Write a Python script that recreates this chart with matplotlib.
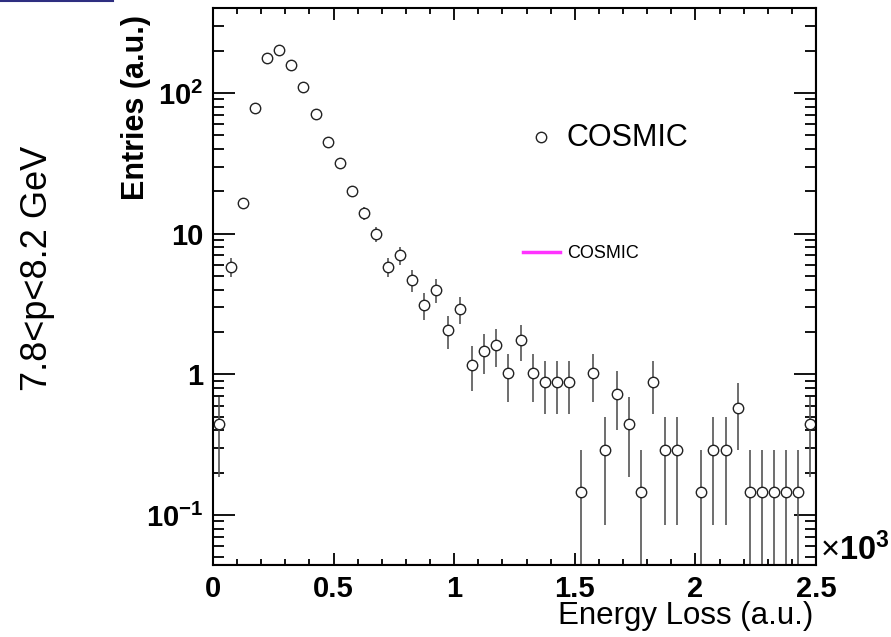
import numpy as np
import matplotlib.pyplot as plt
import matplotlib.transforms as mtransforms
from matplotlib.lines import Line2D
from matplotlib.ticker import MultipleLocator, LogLocator, NullFormatter

plt.rcParams['font.family'] = ['Liberation Sans', 'DejaVu Sans']
plt.rcParams['mathtext.fontset'] = 'custom'
plt.rcParams['mathtext.rm'] = 'Liberation Sans'
plt.rcParams['mathtext.bf'] = 'Liberation Sans:bold'

# energy loss histogram, 50 bins of 0.05 (x10^3) between 0 and 2.5
bin_lo = 0.0
bin_width = 0.05
entries = [0.44, 5.8, 16.4, 78, 178, 203, 158, 110, 71, 45,
           32, 20, 14, 10, 5.8, 7.0, 4.7, 3.1, 4.0, 2.05,
           2.92, 1.17, 1.46, 1.61, 1.02, 1.75, 1.02, 0.88, 0.88, 0.88,
           0.146, 1.02, 0.29, 0.73, 0.44, 0.146, 0.88, 0.29, 0.29, 0.0,
           0.146, 0.29, 0.29, 0.58, 0.146, 0.146, 0.146, 0.146, 0.146, 0.44]
weight = 0.146  # a.u. per raw count

x_ticks = [0, 0.5, 1, 1.5, 2, 2.5]
x_ticklabels = ['0', '0.5', '1', '1.5', '2', '2.5']
y_ticks = [0.1, 1, 10, 100]
y_ticklabels = [r'$\mathbf{10^{-1}}$', '1', '10', r'$\mathbf{10^{2}}$']

y = np.array(entries)
x = bin_lo + bin_width * (np.arange(len(y)) + 0.5)
keep = y > 0
x, y = x[keep], y[keep]
err = np.sqrt(y * weight)          # poisson error on weighted counts
err_lo = np.minimum(err, y - 1e-3)

fig = plt.figure(figsize=(8.91, 6.37), dpi=100)
ax = fig.add_axes([213 / 891, 1 - 565 / 637, 603 / 891, 557 / 637])

ax.errorbar(x, y, yerr=[err_lo, err], fmt='o', mfc='white', mec='#222222',
            ms=7.5, mew=1.0, ecolor='#555555', elinewidth=1.2, capsize=0)

ax.set_yscale('log')
ax.set_xlim(0, 2.5)
ax.set_ylim(0.0441, 402)

ax.xaxis.set_major_locator(MultipleLocator(0.5))
ax.xaxis.set_minor_locator(MultipleLocator(0.1))
ax.set_xticks(x_ticks)
ax.set_xticklabels(x_ticklabels, fontweight='bold')
ax.set_yticks(y_ticks)
ax.set_yticklabels(y_ticklabels, fontweight='bold')
ax.yaxis.set_minor_locator(LogLocator(base=10, subs=np.arange(2, 10), numticks=20))
ax.yaxis.set_minor_formatter(NullFormatter())

ax.tick_params(axis='x', which='major', direction='in', top=True, length=8.5,
               width=1.3, pad=7, labelsize=21)
ax.tick_params(axis='x', which='minor', direction='in', top=True, length=4.3, width=1.3)
ax.tick_params(axis='y', which='major', direction='in', right=True, length=16,
               width=1.3, pad=7, labelsize=21)
ax.tick_params(axis='y', which='minor', direction='in', right=True, length=8, width=1.3)
for sp in ax.spines.values():
    sp.set_linewidth(1.5)

# thin red frame lines just inside the right and bottom edges
shift = mtransforms.ScaledTranslation(-1.5 / 100, 1.5 / 100, fig.dpi_scale_trans)
ax.plot([0, 1], [0, 0], color='#cc4444', lw=0.8, clip_on=False,
        transform=ax.transAxes + shift)
ax.plot([1, 1], [0, 1], color='#cc4444', lw=0.8, clip_on=False,
        transform=ax.transAxes + shift)

fig.text(136 / 891, 1 - 107 / 637, 'Entries (a.u.)', rotation=90, fontweight='bold',
         fontsize=22, ha='center', va='center')
fig.text(813 / 891, 1 - 616 / 637, 'Energy Loss (a.u.)', fontsize=22.5,
         ha='right', va='center')
fig.text(820 / 891, 1 - 550 / 637, '×$\\mathbf{10^{3}}$', fontsize=23.5,
         ha='left', va='center')
fig.text(38 / 891, 1 - 268 / 637, '7.8<p<8.2 GeV', rotation=90, fontsize=26,
         ha='center', va='center')

# legends
fig.add_artist(Line2D([541 / 891], [1 - 137 / 637], marker='o', ls='none', mfc='white',
                      mec='#222222', ms=7.5, mew=1.0))
fig.text(567 / 891, 1 - 138 / 637, 'COSMIC', fontsize=22, va='center')
fig.add_artist(Line2D([523 / 891, 560 / 891], [1 - 252 / 637, 1 - 252 / 637],
                      color='#ff33ff', lw=2.5))
fig.text(567 / 891, 1 - 253 / 637, 'COSMIC', fontsize=13, va='center')

fig.add_artist(Line2D([0, 113 / 891], [1 - 1 / 637, 1 - 1 / 637], color='#2e2e80', lw=1.5))

fig.savefig('out.png', dpi=100)
